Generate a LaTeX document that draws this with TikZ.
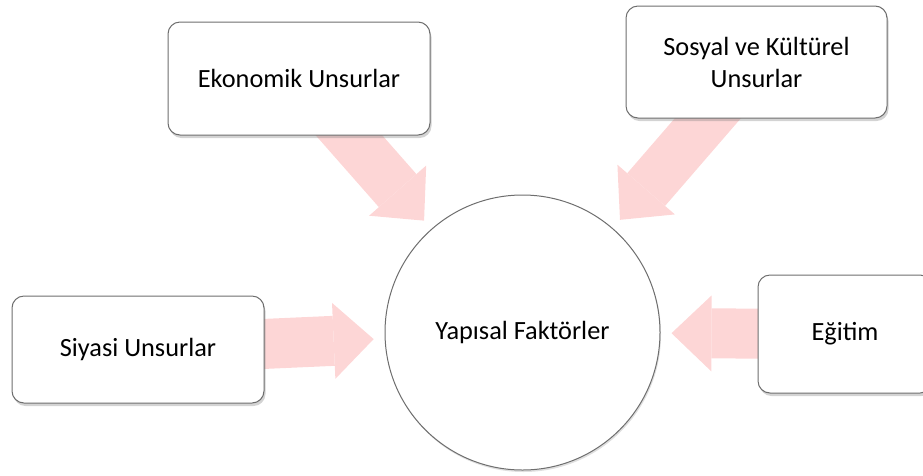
\documentclass[tikz,border=0pt]{standalone}
\usepackage{fontspec}
\setmainfont{Carlito}
\usetikzlibrary{arrows.meta, shadows, backgrounds}
\definecolor{rosa}{RGB}{253,214,214}
\definecolor{borde}{RGB}{110,110,110}
\tikzset{
  caja/.style={draw=borde, line width=1pt, fill=white, rounded corners=12pt, align=center, inner sep=0pt,
    drop shadow={shadow xshift=1.5pt, shadow yshift=-3pt, opacity=0.35}},
  flecha/.style={draw=rosa, line width=50pt, -{Triangle[length=40pt,width=76pt,line width=0pt]}, shorten >=11pt}
}

\begin{document}
\begin{tikzpicture}[x=1pt,y=-1pt, font=\fontsize{26.3}{32}\selectfont]
        \clip (0,0) rectangle (923,475);
        % Circulo central
        \node[circle, draw=borde, line width=1pt, fill=white, minimum size=275pt, inner sep=0pt,
          drop shadow={shadow xshift=1pt, shadow yshift=-2pt, opacity=0.25}] (yf) at (522.5,332.5) {Yapısal Faktörler};
        % Cajas de los unsurlar
        \node[caja, minimum width=262pt, minimum height=113pt] (eko) at (299,78.5) {Ekonomik Unsurlar};
        \node[caja, minimum width=261pt, minimum height=112pt] (sos) at (756.5,62) {Sosyal ve Kültürel\\Unsurlar};
        \node[caja, minimum width=252pt, minimum height=107pt] (siy) at (138,349.5) {Siyasi Unsurlar};
        \node[caja, minimum width=174pt, minimum height=118pt] (egi) at (845,334) {Eğitim};
        % Flechas hacia el circulo
        \begin{scope}[on background layer]
            \draw[flecha] (eko.center) -- (yf);
            \draw[flecha] (sos.center) -- (yf);
            \draw[flecha] (siy.center) -- (yf);
            \draw[flecha] (egi.center) -- (yf);
        \end{scope}
    \end{tikzpicture}
\end{document}
